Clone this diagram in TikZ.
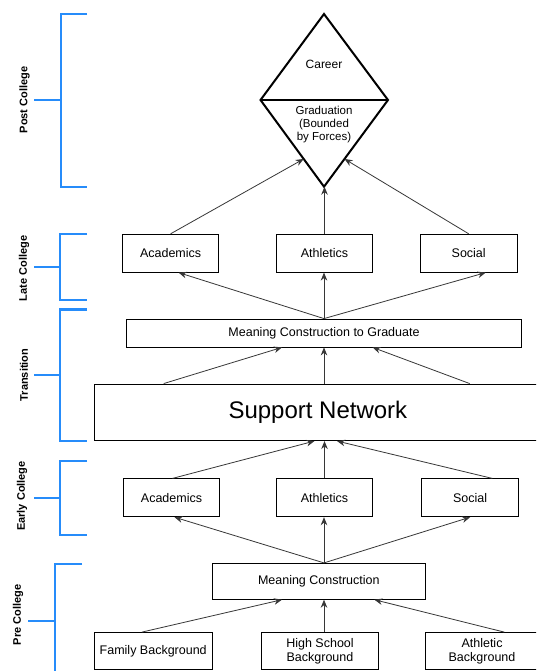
\documentclass[tikz,border=0pt]{standalone}
\usepackage{fontspec}
\setmainfont{Liberation Sans}
\usetikzlibrary{arrows.meta,calc}

\definecolor{phaseblue}{RGB}{38,140,250}
\definecolor{arrowgray}{RGB}{55,55,55}

\begin{document}
\begin{tikzpicture}[x=1pt,y=-1pt,
  stagebox/.style={draw, line width=0.8pt, inner sep=0pt, align=center,
    font=\fontsize{12.5}{14}\selectfont},
  smallbox/.style={stagebox, minimum width=96.5, minimum height=38},
  flow/.style={draw=arrowgray, line width=0.8pt, -{Stealth[length=8pt,width=6.5pt]}},
  phase/.style={draw=phaseblue, line width=2.2pt},
  phaselabel/.style={rotate=90, font=\bfseries\fontsize{11}{13}\selectfont}]

  \useasboundingbox (0,0) rectangle (536,671);
  \fill[white] (0,0) rectangle (536,671);
  \clip (0,0) rectangle (536,671);

  % phase brackets
  \draw[phase] (87,14) -- (61,14) -- (61,187) -- (87,187) (34,100) -- (61,100);
  \node[phaselabel] (postlbl) at (24.5,100) {Post College};
  \draw[phase] (87,234) -- (60,234) -- (60,300) -- (87,300) (34,267) -- (60,267);
  \node[phaselabel] (latelbl) at (24,268.5) {Late College};
  \draw[phase] (87,309.5) -- (60,309.5) -- (60,441) -- (87,441) (34,375.3) -- (60,375.3);
  \node[phaselabel] (translbl) at (24,375) {Transition};
  \draw[phase] (87,461) -- (60,461) -- (60,535.3) -- (87,535.3) (34,497.7) -- (60,497.7);
  \node[phaselabel] (earlylbl) at (22,496) {Early College};
  \draw[phase] (82,564) -- (55,564) -- (55,680) (28,620.7) -- (55,620.7);
  \node[phaselabel] (prelbl) at (18,615) {Pre College};

  % goal diamond
  \coordinate (dtop) at (324,14);
  \coordinate (dleft) at (260.5,100);
  \coordinate (dright) at (388,100);
  \coordinate (dbot) at (324,186.7);
  \draw[line width=2pt] (dtop) -- (dright) -- (dbot) -- (dleft) -- cycle;
  \draw[line width=2pt] (dleft) -- (dright);
  \node[font=\fontsize{12}{14}\selectfont] (career) at (324,64) {Career};
  \node[align=center, font=\fontsize{11.5}{13}\selectfont] (grad) at (324,125)
    {Graduation\\(Bounded\\by Forces)};

  % late college
  \node[smallbox] (lacad) at (170.6,253.2) {Academics};
  \node[smallbox] (lath) at (324.5,253.2) {Athletics};
  \node[smallbox] (lsoc) at (468.7,253.2) {Social};
  \node[stagebox, minimum width=395, minimum height=28,
    font=\fontsize{12.5}{14}\selectfont] (mctg) at (324,333) {Meaning Construction to Graduate};

  \draw[flow] (lacad.north) -- ($(dleft)!0.68!(dbot)$);
  \draw[flow] (lath.north) -- (lath.north |- dbot);
  \draw[flow] (lsoc.north) -- ($(dright)!0.68!(dbot)$);

  \draw[flow] (mctg.north) -- ($(lacad.south)+(8,0)$);
  \draw[flow] (mctg.north) -- (mctg.north |- lath.south);
  \draw[flow] (mctg.north) -- ($(lsoc.south)+(17,0)$);

  % support network
  \node[stagebox, minimum width=446.3, minimum height=56.7,
    font=\fontsize{24}{28}\selectfont] (sup) at (317.9,412.3) {Support Network};
  \coordinate (hub) at (sup.south -| mctg.south);

  \draw[flow] ($(sup.north west)+(69.4,0)$) -- ($(mctg.south)+(-42,0)$);
  \draw[flow] (mctg.south |- sup.north) -- (mctg.south);
  \draw[flow] ($(sup.north west)+(375.3,0)$) -- ($(mctg.south)+(48.6,0)$);

  % early college
  \node[smallbox] (eacad) at (171.5,497.8) {Academics};
  \node[smallbox] (eath) at (324.5,497.8) {Athletics};
  \node[smallbox] (esoc) at (470.1,497.8) {Social};

  \draw[flow] ($(eacad.north)+(1,0)$) -- ($(hub)+(-9.5,0)$);
  \draw[flow] (eath.north) -- (eath.north |- hub);
  \draw[flow] ($(esoc.north)+(22.2,0)$) -- ($(hub)+(13,0)$);

  % pre college
  \node[stagebox, minimum width=213.6, minimum height=36] (mc) at (318.8,581.3) {Meaning Construction};
  \coordinate (mctop) at (mc.north -| hub);
  \coordinate (mcbot) at (mc.south -| hub);

  \draw[flow] (mctop) -- ($(eacad.south)+(3,0)$);
  \draw[flow] (mctop) -- (mctop |- eath.south);
  \draw[flow] (mctop) -- (esoc.south);

  \node[stagebox, minimum width=117.5, minimum height=37] (fam) at (153.2,651) {Family Background};
  \node[stagebox, minimum width=117, minimum height=37] (hs) at (320,651) {High School\\Background};
  \node[stagebox, minimum width=114, minimum height=37] (athbg) at (482,651) {Athletic\\Background};

  \draw[flow] ($(fam.north)+(-11.3,0)$) -- ($(mcbot)+(-42,0)$);
  \draw[flow] (hs.north -| mcbot) -- (mcbot);
  \draw[flow] ($(athbg.north)+(22.3,0)$) -- ($(mcbot)+(50.4,0)$);

\end{tikzpicture}
\end{document}
